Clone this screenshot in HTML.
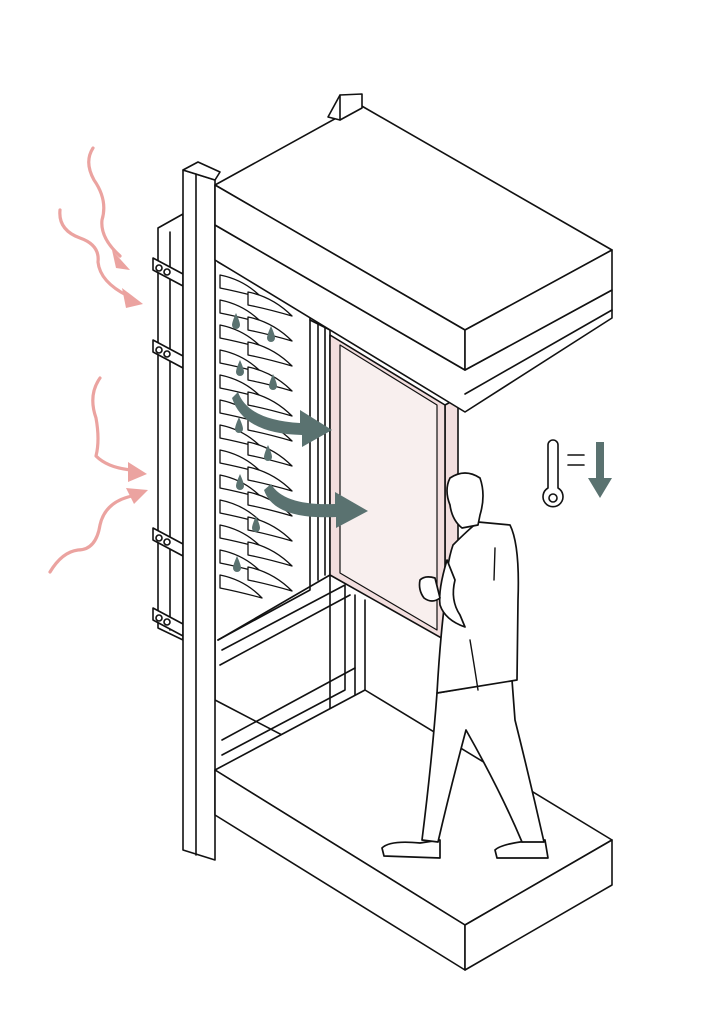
<!DOCTYPE html>
<html><head><meta charset="utf-8"><style>html,body{margin:0;padding:0;background:#fff}svg{display:block}</style></head>
<body>
<svg width="724" height="1024" viewBox="0 0 724 1024" xmlns="http://www.w3.org/2000/svg" fill="none" stroke="#111" stroke-width="1.6" stroke-linejoin="round" stroke-linecap="round">
<!-- back panel left -->
<polygon points="158,228 183,214 183,640 158,628" fill="#fff"/>
<line x1="170" y1="232" x2="170" y2="630"/>
<!-- brackets -->
<g fill="#fff">
<polygon points="153,258 183,274 183,286 153,270"/><circle cx="159" cy="268" r="3"/><circle cx="167" cy="272" r="3"/>
<polygon points="153,340 183,356 183,368 153,352"/><circle cx="159" cy="350" r="3"/><circle cx="167" cy="354" r="3"/>
<polygon points="153,528 183,544 183,556 153,540"/><circle cx="159" cy="538" r="3"/><circle cx="167" cy="542" r="3"/>
<polygon points="153,608 183,624 183,636 153,620"/><circle cx="159" cy="618" r="3"/><circle cx="167" cy="622" r="3"/>
</g>
<!-- frame interior -->
<polygon points="215,245 330,310 330,760 215,700" fill="#fff"/>
<polyline points="218,262 310,315 310,590 218,640"/>
<polyline points="218,640 330,575"/>
<polyline points="222,650 345,585 345,690 222,755"/>
<polyline points="220,665 350,595"/>
<polyline points="222,740 355,668"/>
<polyline points="310,320 330,330"/>
<line x1="318" y1="320" x2="318" y2="580"/>
<line x1="325" y1="325" x2="325" y2="575"/>
<line x1="355" y1="595" x2="355" y2="700"/>
<line x1="365" y1="600" x2="365" y2="700"/>
<!-- louvers -->
<g fill="#fff" stroke-width="1.3">
<path d="M220,275 Q245,280 262,298 Q240,292 220,288Z"/><path d="M248,292 Q273,297 292,316 Q268,309 248,305Z"/>
<path d="M220,300 Q245,305 262,323 Q240,317 220,313Z"/><path d="M248,317 Q273,322 292,341 Q268,334 248,330Z"/>
<path d="M220,325 Q245,330 262,348 Q240,342 220,338Z"/><path d="M248,342 Q273,347 292,366 Q268,359 248,355Z"/>
<path d="M220,350 Q245,355 262,373 Q240,367 220,363Z"/><path d="M248,367 Q273,372 292,391 Q268,384 248,380Z"/>
<path d="M220,375 Q245,380 262,398 Q240,392 220,388Z"/><path d="M248,392 Q273,397 292,416 Q268,409 248,405Z"/>
<path d="M220,400 Q245,405 262,423 Q240,417 220,413Z"/><path d="M248,417 Q273,422 292,441 Q268,434 248,430Z"/>
<path d="M220,425 Q245,430 262,448 Q240,442 220,438Z"/><path d="M248,442 Q273,447 292,466 Q268,459 248,455Z"/>
<path d="M220,450 Q245,455 262,473 Q240,467 220,463Z"/><path d="M248,467 Q273,472 292,491 Q268,484 248,480Z"/>
<path d="M220,475 Q245,480 262,498 Q240,492 220,488Z"/><path d="M248,492 Q273,497 292,516 Q268,509 248,505Z"/>
<path d="M220,500 Q245,505 262,523 Q240,517 220,513Z"/><path d="M248,517 Q273,522 292,541 Q268,534 248,530Z"/>
<path d="M220,525 Q245,530 262,548 Q240,542 220,538Z"/><path d="M248,542 Q273,547 292,566 Q268,559 248,555Z"/>
<path d="M220,550 Q245,555 262,573 Q240,567 220,563Z"/><path d="M248,567 Q273,572 292,591 Q268,584 248,580Z"/>
<path d="M220,575 Q245,580 262,598 Q240,592 220,588Z"/>
</g>
<!-- drops -->
<g fill="#5a7270" stroke="none">
<path d="M236,313 Q232,322 232,325 a4,4 0 0 0 8,0 Q240,322 236,313Z"/>
<path d="M271,326 Q267,335 267,338 a4,4 0 0 0 8,0 Q275,335 271,326Z"/>
<path d="M240,360 Q236,369 236,372 a4,4 0 0 0 8,0 Q244,369 240,360Z"/>
<path d="M273,374 Q269,383 269,386 a4,4 0 0 0 8,0 Q277,383 273,374Z"/>
<path d="M239,417 Q235,426 235,429 a4,4 0 0 0 8,0 Q243,426 239,417Z"/>
<path d="M268,445 Q264,454 264,457 a4,4 0 0 0 8,0 Q272,454 268,445Z"/>
<path d="M240,474 Q236,483 236,486 a4,4 0 0 0 8,0 Q244,483 240,474Z"/>
<path d="M256,516 Q252,525 252,528 a4,4 0 0 0 8,0 Q260,525 256,516Z"/>
<path d="M237,556 Q233,565 233,568 a4,4 0 0 0 8,0 Q241,565 237,556Z"/>
</g>
<!-- pink panel -->
<polygon points="445,405 458,398 458,630 445,640" fill="#f2dede"/>
<polygon points="330,335 445,405 445,640 330,575" fill="#f2dede"/>
<polygon points="340,345 437,405 437,630 340,573" fill="#f8efee" stroke-width="1.2"/>
<!-- teal arrows -->
<g fill="#5a7270" stroke="none">
<path d="M238,392 Q248,420 300,423 L300,410 L332,430 L302,447 L302,435 Q244,434 232,398Z"/>
<path d="M271,484 Q284,506 335,504 L335,492 L368,511 L336,528 L336,517 Q274,520 264,490Z"/>
</g>
<!-- vertical post -->
<polygon points="183,170 215,180 215,860 183,850" fill="#fff"/>
<polygon points="183,170 198,162 220,172 215,180" fill="#fff"/>
<line x1="196" y1="174" x2="196" y2="855"/>
<!-- top slab -->
<polygon points="215,225 465,370 612,290 612,318 465,412 215,260" fill="#fff"/>
<line x1="465" y1="394" x2="612" y2="310"/>
<polygon points="215,185 360,105 612,250 465,330" fill="#fff"/>
<polygon points="215,185 465,330 465,370 215,225" fill="#fff"/>
<polygon points="465,330 612,250 612,290 465,370" fill="#fff"/>
<polygon points="328,117 340,95 362,94 362,108 340,120" fill="#fff"/>
<line x1="340" y1="95" x2="340" y2="120"/>
<!-- bottom slab -->
<polygon points="215,770 365,690 612,840 465,925" fill="#fff"/>
<polygon points="215,770 465,925 465,970 215,815" fill="#fff"/>
<polygon points="465,925 612,840 612,885 465,970" fill="#fff"/>
<!-- person -->
<g fill="#fff" stroke-width="1.7">
<path d="M440,840 L420,843 Q390,840 382,848 L384,856 L440,858 Z"/>
<path d="M545,840 L520,842 Q500,845 495,850 L497,858 L548,858 Z"/>
<path d="M437,693 Q432,760 422,840 L438,842 Q450,790 466,730 Q500,790 522,842 L544,842 Q530,780 515,720 L512,680 Z"/>
<path d="M453,545 Q468,530 478,522 L510,525 Q520,545 518,600 L517,680 L437,693 Q440,640 445,600 Q446,565 453,545Z"/>
<path d="M447,560 Q438,590 440,605 Q445,620 465,627 L460,615 Q450,600 455,580Z"/>
<path d="M420,580 Q425,575 435,578 L440,598 Q432,604 424,598 Q418,590 420,580Z"/>
<path d="M450,478 Q465,468 480,478 Q486,495 480,515 L478,525 L462,528 Q452,520 450,505 Q444,490 450,478Z"/>
</g>
<path d="M495,548 L494,580 M470,640 Q475,670 478,690" stroke-width="1.4"/>
<!-- thermometer -->
<g stroke-width="1.6">
<path d="M548,445 a5,5 0 0 1 10,0 L558,488 a10,10 0 1 1 -10,0 Z" fill="#fff"/>
<circle cx="553" cy="498" r="4"/>
<line x1="568" y1="455" x2="584" y2="455"/><line x1="568" y1="465" x2="584" y2="465"/>
</g>
<path d="M596,442 L604,442 L604,478 L612,478 L600,498 L588,478 L596,478 Z" fill="#5a7270" stroke="none"/>
<!-- pink wave arrows -->
<g stroke="#eba3a0" stroke-width="3.2" fill="none">
<path d="M93,148 Q84,162 94,180 Q108,200 102,220 Q100,238 120,256"/>
<path d="M60,210 Q58,230 80,238 Q100,245 98,262 Q100,282 128,296"/>
<path d="M100,378 Q88,395 96,418 Q100,440 96,456 Q108,468 132,470"/>
<path d="M50,572 Q62,552 78,550 Q96,550 100,525 Q105,502 132,496"/>
</g>
<g fill="#eba3a0" stroke="none">
<polygon points="112,250 130,270 116,268"/>
<polygon points="122,288 143,304 126,308"/>
<polygon points="128,462 147,474 128,482"/>
<polygon points="126,488 148,490 134,504"/>
</g>
</svg>
</body></html>
